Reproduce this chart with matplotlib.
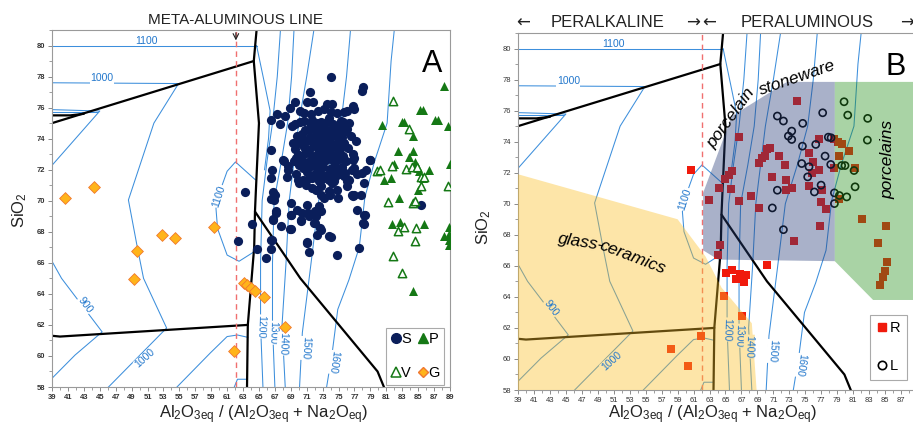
import matplotlib
matplotlib.use('Agg')
import matplotlib.pyplot as plt
from matplotlib.patches import Polygon
from matplotlib.lines import Line2D
import numpy as np

plt.rcParams['font.family'] = ['Liberation Sans', 'DejaVu Sans']
plt.rcParams['mathtext.default'] = 'regular'

# ---------------- data: panel A ----------------
S_x = [74.0, 78.13, 77.95, 71.41, 69.52, 71.0, 71.8, 73.51, 74.2, 76.87, 77.0, 68.9, 70.1, 67.29, 68.22, 66.56, 67.63, 69.1,
       70.65, 71.58, 72.42, 73.17, 74.01, 74.85, 75.69, 76.11, 70.65, 71.7, 72.75, 73.8, 75.27, 76.32,
       77.16, 78.92, 78.42, 76.95, 78.21, 77.79, 76.82, 78.34, 78.13, 77.58, 74.85, 73.8, 71.07, 71.28, 72.33, 72.75,
       68.98, 70.32, 71.28, 72.12, 71.91, 72.75, 68.98, 68.98, 71.07, 66.96, 66.88, 67.08, 66.75, 66.45, 65.91, 64.15,
       64.78, 63.22, 62.34, 66.45, 66.58, 66.45, 68.05, 68.64, 68.64, 68.55, 66.79, 69.9, 70.86, 71.7, 71.7, 72.12,
       72.75, 73.17, 73.93, 74.94, 74.85, 76.11, 76.95, 76.32, 74.22, 75.23, 75.69, 76.74, 70.02, 69.6, 70.57, 69.81,
       71.2, 72.0, 85.35, 66.58, 66.79, 67.09, 67.72, 68.85, 69.06, 70.23, 70.44, 72.04, 72.63, 72.55, 70.99, 74.1,
       77.37, 78.21, 78.21, 66.46, 66.46, 68.14, 70.02, 72.84, 74.43, 76.11, 76.95, 78.0, 78.97, 73.8, 76.74, 70.86,
       69.31, 70.23, 71.28, 71.91, 69.9, 70.86, 72.21, 75.69, 75.9, 76.87,
       69.5, 70.2, 71.5, 72.3, 73.0, 73.6, 74.3, 75.0, 75.6,
       70.8, 71.9, 72.6, 73.2, 73.9, 74.5, 75.2, 76.0,
       69.8, 70.4, 71.4, 72.2, 72.9, 73.4, 74.0, 74.7, 75.4, 76.6,
       70.1, 71.0, 71.8, 72.5, 73.1, 73.7, 74.2, 74.9, 75.7,
       69.5, 70.6, 71.3, 72.0, 72.7, 73.3, 73.9, 74.5, 75.2, 76.2,
       70.0, 70.9, 71.7, 72.4, 73.0, 73.6, 74.1, 74.8, 75.5,
       69.4, 70.4, 71.2, 72.1, 72.8, 73.4, 74.4, 75.0, 75.9, 76.8,
       70.8, 71.6, 72.3, 73.1, 73.9, 74.6, 75.4,
       69.6, 71.0, 72.0, 72.7, 73.5, 74.2, 75.0, 75.8, 77.3,
       70.5, 71.3, 72.5, 73.2, 73.8, 74.5, 76.0]
S_y = [77.95, 77.34, 77.06, 77.0, 76.35, 76.35, 76.36, 76.26, 76.26, 76.1, 75.9, 75.95, 75.8, 75.6, 75.47, 75.22, 74.95, 74.8,
       75.66, 75.6, 75.77, 75.92, 75.7, 75.66, 75.7, 75.77, 75.12, 75.23, 75.06, 75.34, 75.12, 75.01,
       73.83, 72.65, 71.96, 72.76, 71.14, 70.39, 70.28, 69.1, 68.56, 66.95, 66.52, 67.7, 67.27, 66.67, 67.81, 68.13,
       68.18, 68.67, 68.99, 68.99, 68.56, 69.32, 69.1, 69.85, 69.75, 70.39, 70.07, 69.32, 68.78, 67.49, 66.31, 68.5,
       66.89, 70.56, 67.42, 73.29, 71.96, 71.47, 72.6, 72.26, 72.0, 71.53, 70.54, 71.36, 71.04, 71.47, 70.82, 70.71,
       70.39, 70.18, 70.39, 70.18, 70.71, 70.93, 70.39, 71.36, 71.14, 72.05, 71.57, 72.0, 72.33, 72.76, 72.11, 69.42,
       69.21, 69.32, 69.72, 67.48, 68.81, 69.2, 68.38, 68.17, 69.09, 68.73, 69.2, 68.55, 68.23, 69.63, 67.31, 67.65,
       69.41, 69.09, 68.51, 66.88, 70.12, 72.53, 71.14, 70.92, 71.24, 71.41, 72.1, 71.78, 72.64, 70.6, 70.34, 73.22,
       73.72, 74.04, 74.58, 74.9, 72.92, 72.32, 72.21, 74.9, 74.47, 73.0,
       74.95, 75.05, 74.9, 75.0, 74.85, 75.1, 74.95, 74.8, 75.05,
       74.55, 74.65, 74.5, 74.7, 74.55, 74.6, 74.45, 74.65,
       74.15, 74.3, 74.1, 74.25, 74.15, 74.3, 74.1, 74.25, 74.1, 74.2,
       73.75, 73.85, 73.7, 73.9, 73.75, 73.85, 73.65, 73.8, 73.75,
       73.35, 73.45, 73.3, 73.5, 73.35, 73.45, 73.3, 73.5, 73.35, 73.4,
       72.95, 73.05, 72.9, 73.1, 72.95, 73.05, 72.85, 73.0, 72.9,
       72.55, 72.65, 72.5, 72.7, 72.55, 72.65, 72.5, 72.7, 72.55, 72.6,
       72.15, 72.25, 72.1, 72.2, 72.05, 72.25, 72.15,
       71.75, 71.85, 71.7, 71.8, 71.65, 71.85, 71.75, 71.8, 71.7,
       71.35, 71.45, 71.3, 71.45, 71.35, 71.5, 71.3]

P_x = [88.28, 85.22, 85.56, 87.11, 87.53, 82.95, 83.17, 80.52, 88.79, 84.3, 82.41, 84.38, 83.8, 81.91, 84.59, 84.93,
       86.32, 89.0, 85.13, 85.56, 81.57, 80.72, 84.93, 82.62, 81.66, 82.74, 85.68, 88.21, 88.92, 88.92, 88.92, 88.92, 84.3]
P_y = [77.37, 75.83, 75.87, 75.23, 75.23, 75.08, 75.08, 74.9, 74.8, 74.2, 73.18, 73.18, 72.8, 72.39, 72.47, 72.1,
       72.0, 72.37, 71.89, 71.46, 71.46, 71.31, 70.71, 70.17, 68.5, 68.63, 68.52, 67.7, 68.34, 67.87, 67.48, 67.16, 64.19]

V_x = [81.78, 83.8, 79.77, 80.18, 81.66, 83.46, 84.17, 84.8, 85.35, 85.77, 85.35, 88.7, 81.23, 84.3, 84.63,
       82.41, 83.25, 84.72, 84.63, 81.86, 82.95]
V_y = [76.41, 74.65, 71.94, 71.96, 72.26, 72.06, 72.17, 72.17, 71.53, 71.53, 70.92, 70.97, 69.89, 69.85, 69.96,
       68.08, 68.3, 68.24, 67.42, 66.47, 65.33]

G_x = [40.64, 44.33, 49.67, 49.24, 52.82, 54.4, 59.32, 61.83, 63.1, 63.5, 64.0, 64.5, 65.6, 68.3]
G_y = [70.17, 70.88, 66.79, 64.95, 67.81, 67.59, 68.34, 60.32, 64.73, 64.58, 64.4, 64.2, 63.79, 61.85]

# ---------------- data: panel B ----------------
R_x = [73.9, 66.7, 70.2, 70.6, 69.2, 69.6, 70.0, 71.75, 72.46, 70.8, 72.6, 72.6, 73.3, 75.5, 76.0, 76.76, 76.76, 75.8,
       75.5, 77.06, 76.98, 77.56, 78.6, 79.15, 79.65, 80.52, 79.27, 81.24, 78.65, 79.27, 65.86, 65.45, 64.95, 64.24,
       65.66, 62.94, 66.74, 68.2, 69.25, 60.68, 76.85, 73.63, 64.32, 64.11, 70.17, 65.03, 65.86, 66.32, 66.82, 67.58,
       67.37, 64.86, 67.12, 61.94, 58.18, 60.35, 82.07, 85.08, 84.16, 85.2, 85.0, 84.8, 84.37]
R_y = [76.6, 74.3, 73.5, 73.6, 72.6, 72.95, 73.1, 73.07, 72.5, 71.7, 71.56, 70.9, 71.0, 73.3, 72.7, 74.14, 72.2, 72.0,
       71.17, 70.87, 70.12, 69.69, 74.2, 73.97, 73.82, 73.37, 73.07, 72.31, 72.31, 70.33, 72.14, 71.82, 71.6, 71.02,
       70.98, 70.27, 70.16, 70.48, 69.73, 72.16, 68.55, 67.58, 67.37, 66.72, 66.03, 65.54, 65.71, 65.17, 65.49, 65.43,
       64.93, 64.07, 62.78, 61.45, 60.65, 59.55, 69.02, 68.55, 67.47, 66.25, 65.64, 65.28, 64.78]

L_x = [77.18, 71.5, 72.26, 74.68, 73.3, 72.88, 73.3, 74.64, 76.31, 77.89, 78.23, 77.48, 78.19, 74.55, 75.47, 75.3,
       76.98, 76.14, 71.5, 70.87, 72.26, 78.65, 78.65, 79.27, 79.86, 80.32, 82.82, 82.78, 79.56, 79.98, 81.11, 81.24, 80.19]
L_y = [75.86, 75.65, 75.33, 75.18, 74.68, 74.36, 74.14, 73.71, 73.82, 74.29, 74.25, 73.07, 72.53, 72.59, 72.38, 71.73,
       71.2, 70.76, 70.87, 69.73, 68.33, 70.7, 70.01, 70.53, 76.57, 75.71, 75.5, 74.1, 72.46, 72.46, 72.14, 71.09, 70.44]

# ---------------- phase diagram (shared) ----------------
BLACK_LINES = [
    [(39, 75.0), (64.35, 79.0)],
    [(39, 75.5), (41.3, 75.5), (43.0, 75.6)],
    [(64.7, 81.0), (64.35, 79.0), (65.0, 75.0), (64.6, 70.5), (64.5, 69.3), (64.4, 67.0), (63.6, 62.0), (63.5, 58.0)],
    [(64.5, 69.3), (70.2, 65.0), (79.9, 59.0), (80.7, 58.0)],
    [(39, 61.3), (40.0, 61.25), (63.6, 62.0)],
]
ISO_LINES = [
    [(39, 80.0), (64.7, 80.0)],
    [(64.7, 80.0), (65.6, 77.8), (66.4, 75.8), (66.2, 74.0), (65.7, 72.0)],
    [(39, 77.6), (54.9, 77.55), (51.8, 75.0), (48.6, 70.05), (49.7, 67.05), (50.5, 65.0), (53.4, 61.8), (46.1, 58.0)],
    [(39, 75.87), (45.0, 75.78), (39, 72.28)],
    [(39, 75.72), (44.6, 75.72)],
    [(39, 66.1), (40.2, 65.0), (45.3, 61.55), (41.9, 60.06), (39, 58.56)],
    [(64.55, 71.35), (62.05, 72.5), (61.0, 71.9), (60.3, 70.9), (59.6, 69.5), (59.8, 68.2), (61.0, 66.5), (62.5, 66.1), (64.35, 66.7)],
    [(63.6, 61.2), (62.3, 61.35), (61.0, 61.25), (58.9, 60.2), (54.7, 58.0)],
    [(63.5, 58.5), (62.3, 58.5), (61.9, 58.0)],
    [(67.7, 81.0), (67.3, 78.0), (66.7, 75.0), (66.0, 72.5), (65.4, 70.0), (65.2, 66.0), (65.2, 62.0), (65.5, 58.0)],
    [(69.4, 81.0), (69.1, 78.0), (68.6, 75.0), (67.8, 72.5), (66.9, 70.0), (66.7, 66.0), (66.7, 62.0), (67.0, 58.0)],
    [(71.9, 81.0), (71.0, 78.0), (70.0, 75.0), (69.4, 72.5), (68.8, 70.0), (68.4, 66.0), (67.9, 62.0), (68.3, 58.0)],
    [(76.5, 81.0), (76.0, 78.0), (75.3, 75.0), (74.0, 72.5), (72.5, 70.0), (71.5, 65.8), (70.45, 61.5), (70.1, 58.0)],
    [(82.0, 81.0), (81.6, 79.0), (81.1, 75.0), (79.5, 72.5), (78.3, 70.2), (77.6, 67.0), (76.3, 64.9), (74.9, 63.0), (74.2, 60.2), (73.5, 58.0)],
]
ISO_LABELS = [("1100", 50.9, 80.3, 0), ("1000", 45.3, 77.9, 0), ("1100", 59.9, 70.3, 72),
              ("900", 43.2, 63.3, -53), ("1000", 50.7, 59.85, 42),
              ("1200", 65.2, 61.9, -92), ("1300", 66.7, 61.5, -92), ("1400", 67.95, 60.8, -92),
              ("1500", 70.85, 60.5, -94), ("1600", 74.35, 59.6, -98)]
META_X = 62.1

GLASS_POLY = [(39, 58), (39, 71.9), (59.0, 69.0), (62.5, 66.6), (64.5, 64.6), (66.8, 63.2), (68.3, 62.3), (68.9, 58)]
STONE_POLY = [(62.2, 67.0), (62.2, 70.7), (65.8, 75.65), (72.7, 77.85), (78.7, 77.85), (78.7, 66.3), (64.1, 66.4)]
PORC_POLY = [(78.7, 77.85), (91, 77.85), (91, 63.8), (83.5, 63.8), (78.7, 66.3)]

ISO_C = '#3d8fdc'
LAB_C = '#2277cc'

fig = plt.figure(figsize=(9.13, 4.24), dpi=100)
axA = fig.add_axes([52 / 913, 1 - 387 / 424, 398 / 913, 357 / 424])
axB = fig.add_axes([518 / 913, 1 - 390 / 424, 399 / 913, 357 / 424])


def draw_base(ax):
    for ln in ISO_LINES:
        xs, ys = zip(*ln)
        ax.plot(xs, ys, color=ISO_C, lw=0.75, zorder=1)
    for ln in BLACK_LINES:
        xs, ys = zip(*ln)
        ax.plot(xs, ys, color='black', lw=1.6, zorder=2, solid_capstyle='round')
    ax.axvline(META_X, color='#f07070', lw=1.0, ls=(0, (4, 3)), zorder=2)


def style(ax, bold):
    ax.set_xlim(39, 89)
    ax.set_ylim(58, 81)
    ax.set_xticks(np.arange(39, 90, 2))
    ax.set_xticks(np.arange(39, 90, 1), minor=True)
    ax.set_yticks(np.arange(58, 81, 2))
    ax.set_yticks(np.arange(58, 82, 1), minor=True)
    ax.tick_params(which='major', length=3, width=0.6, color='#777777', labelsize=5.5, pad=2,
                   labelcolor='#333333')
    ax.tick_params(which='minor', length=2, width=0.5, color='#777777')
    for lab in ax.get_xticklabels() + ax.get_yticklabels():
        lab.set_fontweight('bold' if bold else 'normal')
    for sp in ax.spines.values():
        sp.set_color('#9a9a9a')
        sp.set_linewidth(0.8)


# ---------------- Panel A ----------------
draw_base(axA)
for txt, x, y, r in ISO_LABELS:
    axA.text(x, y, txt, color=LAB_C, fontsize=7.5, rotation=r, ha='center', va='center', zorder=3,
             bbox=dict(facecolor='white', edgecolor='none', pad=0.3))
axA.scatter(S_x, S_y, s=44, color='#0a1e5a', zorder=4, linewidths=0)
axA.scatter(P_x, P_y, s=42, marker='^', color='#157815', zorder=4, linewidths=0)
axA.scatter(V_x, V_y, s=36, marker='^', facecolors='white', edgecolors='#157815', linewidths=1.1, zorder=4)
axA.scatter(G_x, G_y, s=36, marker='D', facecolors='#ffb41a', edgecolors='#f07830', linewidths=0.6, zorder=4)
style(axA, True)
axA.text(0.955, 0.905, 'A', transform=axA.transAxes, fontsize=22, ha='center', va='center')
axA.annotate('', xy=(META_X, 80.15), xytext=(META_X, 81.0),
             arrowprops=dict(arrowstyle='->', lw=0.8, color='#222222'), annotation_clip=False)
hA = [Line2D([], [], ls='', marker='o', color='#0a1e5a', markersize=7),
      Line2D([], [], ls='', marker='^', markerfacecolor='white', markeredgecolor='#157815', markeredgewidth=1.1, markersize=7),
      Line2D([], [], ls='', marker='^', color='#157815', markersize=7),
      Line2D([], [], ls='', marker='D', markerfacecolor='#ffb41a', markeredgecolor='#f07830', markersize=5.5)]
legA = axA.legend(hA, ['S', 'V', 'P', 'G'], ncol=2, loc='lower right', bbox_to_anchor=(0.986, 0.006),
                  fontsize=10.5, handletextpad=0.05, columnspacing=0.45, labelspacing=1.4, borderpad=0.3,
                  handlelength=0.7, fancybox=False, edgecolor='#aaaaaa', framealpha=1, borderaxespad=0)
legA.get_frame().set_linewidth(0.8)
legA.set_zorder(10)

# ---------------- Panel B ----------------
draw_base(axB)
axB.scatter(R_x, R_y, s=30, marker='s', color='#f01a0c', zorder=4, linewidths=0)
axB.scatter(L_x, L_y, s=26, marker='o', facecolors='none', edgecolors='black', linewidths=1.2, zorder=4)
for poly, col in [(GLASS_POLY, '#fabe26'), (STONE_POLY, '#283e78'), (PORC_POLY, '#289120')]:
    axB.add_patch(Polygon(poly, closed=True, facecolor=col, edgecolor='none', alpha=0.4, zorder=5))
for txt, x, y, r in ISO_LABELS:
    in_glass = (x < 69 and y < 63) or (txt == '900')
    fc = '#fde5a8' if in_glass else 'white'
    axB.text(x, y, txt, color=LAB_C, fontsize=7.5, rotation=r, ha='center', va='center', zorder=6,
             bbox=dict(facecolor=fc, edgecolor='none', pad=0.3))
axB.text(65.7, 75.5, 'porcelain', fontsize=12.5, style='italic', rotation=54, ha='center', va='center', zorder=7)
axB.text(74.0, 78.15, 'stoneware', fontsize=12.5, style='italic', rotation=19, ha='center', va='center', zorder=7)
axB.text(46.9, 67.55, 'glass-', fontsize=12.5, style='italic', rotation=-9, ha='center', va='center', zorder=7)
axB.text(53.3, 66.55, 'ceramics', fontsize=12.5, style='italic', rotation=-21, ha='center', va='center', zorder=7)
axB.text(85.4, 72.85, 'porcelains', fontsize=12.5, style='italic', rotation=90, ha='center', va='center', zorder=7)
style(axB, False)
axB.text(0.946, 0.905, 'B', transform=axB.transAxes, fontsize=22, ha='center', va='center', zorder=8)
hB = [Line2D([], [], ls='', marker='s', color='#f01a0c', markersize=6),
      Line2D([], [], ls='', marker='o', markerfacecolor='none', markeredgecolor='black', markeredgewidth=1.2, markersize=6)]
legB = axB.legend(hB, ['R', 'L'], loc='lower right', bbox_to_anchor=(0.974, 0.028), fontsize=10.5,
                  handletextpad=0.1, labelspacing=1.65, borderpad=0.45, handlelength=0.8, fancybox=False,
                  edgecolor='#aaaaaa', framealpha=1, borderaxespad=0)
legB.get_frame().set_linewidth(0.8)
legB.set_zorder(10)

# ---------------- figure texts ----------------
xl = r'Al$_2$O$_{3eq}$ / (Al$_2$O$_{3eq}$ + Na$_2$O$_{eq}$)'
fig.text(264 / 913, 1 - 418 / 424, xl, fontsize=12, ha='center', va='baseline', color='#222222')
fig.text(713 / 913, 1 - 418 / 424, xl, fontsize=12, ha='center', va='baseline', color='#222222')
fig.text(20 / 913, 1 - 210 / 424, r'SiO$_2$', fontsize=12, rotation=90, ha='center', va='center', color='#222222')
fig.text(484 / 913, 1 - 227 / 424, r'SiO$_2$', fontsize=12, rotation=90, ha='center', va='center', color='#222222')
fig.text(235 / 913, 1 - 20 / 424, 'META-ALUMINOUS LINE', fontsize=11, ha='center', va='center', color='#222222')
ty = 1 - 22.7 / 424
for s, px in [('\u2190', 523), ('\u2192', 693), ('\u2190', 709), ('\u2192', 907)]:
    fig.text(px / 913, ty, s, fontsize=12, ha='center', va='center', color='#222222', family='DejaVu Sans')
fig.text(607.5 / 913, ty, 'PERALKALINE', fontsize=12, ha='center', va='center', color='#222222')
fig.text(807 / 913, ty, 'PERALUMINOUS', fontsize=12, ha='center', va='center', color='#222222')

fig.savefig('out.png', dpi=100)
